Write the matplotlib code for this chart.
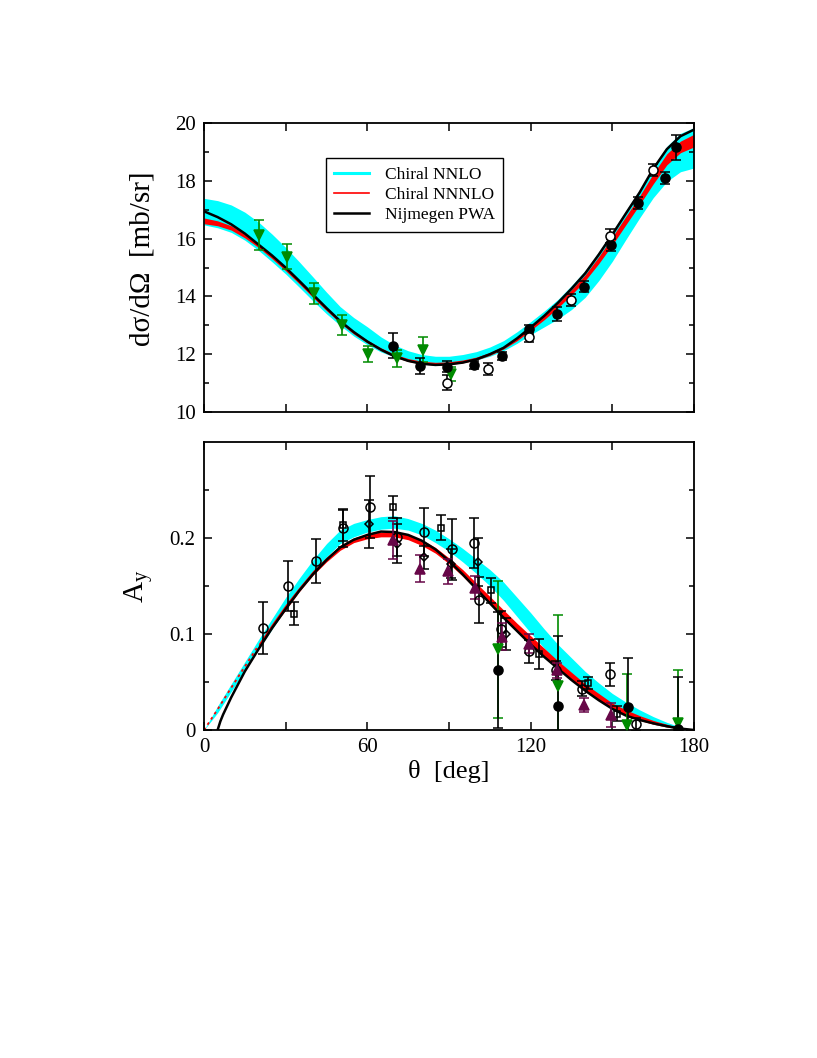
import numpy as np
import matplotlib
matplotlib.use("Agg")
import matplotlib.pyplot as plt
from matplotlib.ticker import MultipleLocator, FixedLocator

plt.rcParams['font.family'] = ['Liberation Serif', 'DejaVu Serif']
plt.rcParams['mathtext.fontset'] = 'custom'
plt.rcParams['mathtext.rm'] = 'Liberation Serif'
plt.rcParams['mathtext.it'] = 'Liberation Serif:italic'

# ---- cross section panel: theory curves ----
theta_xs = [0, 5, 10, 15, 20, 25, 30, 35, 40, 45, 50, 55, 60, 65, 70, 75, 80, 85, 90,
            95, 100, 105, 110, 115, 120, 125, 130, 135, 140, 145, 150, 155, 160, 165, 170, 175, 180]
pwa_xs = [16.95, 16.75, 16.5, 16.18, 15.8, 15.42, 15.0, 14.54, 14.07, 13.6, 13.15, 12.77, 12.44,
          12.16, 11.93, 11.77, 11.67, 11.63, 11.65, 11.71, 11.82, 12.0, 12.22, 12.55, 12.93, 13.33,
          13.78, 14.27, 14.8, 15.45, 16.15, 16.88, 17.6, 18.42, 19.1, 19.55, 19.78]
nnlo_xs_hi = [17.4, 17.32, 17.17, 16.92, 16.58, 16.16, 15.7, 15.2, 14.68, 14.15, 13.65, 13.27, 12.95,
              12.6, 12.32, 12.12, 11.99, 11.93, 11.93, 11.99, 12.09, 12.25, 12.47, 12.78, 13.13, 13.5,
              13.9, 14.38, 14.9, 15.55, 16.25, 16.98, 17.7, 18.5, 19.2, 19.65, 19.85]
nnlo_xs_lo = [16.48, 16.38, 16.22, 15.95, 15.6, 15.2, 14.78, 14.32, 13.85, 13.4, 13.0, 12.63, 12.33,
              12.08, 11.9, 11.77, 11.69, 11.67, 11.7, 11.74, 11.8, 11.93, 12.12, 12.38, 12.68, 12.95,
              13.22, 13.55, 13.97, 14.55, 15.22, 15.98, 16.72, 17.42, 17.98, 18.32, 18.45]
n3lo_xs_hi = [16.72, 16.62, 16.45, 16.15, 15.8, 15.41, 14.99, 14.54, 14.07, 13.61, 13.18, 12.8, 12.49,
              12.22, 12.0, 11.85, 11.76, 11.72, 11.74, 11.8, 11.9, 12.06, 12.28, 12.58, 12.95, 13.34,
              13.76, 14.24, 14.75, 15.38, 16.07, 16.78, 17.48, 18.25, 18.94, 19.38, 19.62]
n3lo_xs_lo = [16.52, 16.45, 16.3, 16.03, 15.7, 15.31, 14.89, 14.44, 13.97, 13.51, 13.08, 12.7, 12.39,
              12.12, 11.9, 11.75, 11.66, 11.62, 11.64, 11.7, 11.8, 11.96, 12.18, 12.47, 12.83, 13.2,
              13.61, 14.06, 14.55, 15.14, 15.79, 16.49, 17.18, 17.9, 18.56, 18.98, 19.18]

# ---- cross section panel: data ----
xs_tri_th = [20.3, 30.4, 40.5, 50.6, 60.4, 70.8, 80.6, 90.6]
xs_tri_v = [16.13, 15.38, 14.11, 13.01, 12.0, 11.86, 12.15, 11.32]
xs_tri_e = [0.52, 0.44, 0.37, 0.35, 0.28, 0.3, 0.43, 0.23]

xs_fc_th = [69.3, 79.4, 89.4, 99.3, 109.4, 119.4, 129.6, 139.4, 149.4, 159.3, 169.4, 173.4]
xs_fc_v = [12.29, 11.59, 11.57, 11.63, 11.94, 12.86, 13.39, 14.34, 15.78, 17.23, 18.1, 19.17]
xs_fc_e = [0.43, 0.29, 0.2, 0.15, 0.15, 0.15, 0.23, 0.2, 0.2, 0.2, 0.2, 0.43]

xs_oc_th = [89.4, 104.2, 119.5, 134.7, 149.2, 164.8]
xs_oc_v = [11.02, 11.48, 12.59, 13.88, 16.1, 18.38]
xs_oc_e = [0.25, 0.2, 0.18, 0.2, 0.25, 0.22]

# ---- analyzing power panel: theory curves ----
theta_ay = [0, 5, 10, 15, 20, 25, 30, 35, 40, 45, 50, 55, 60, 65, 70, 75, 80, 85, 90,
            95, 100, 105, 110, 115, 120, 125, 130, 135, 140, 145, 150, 155, 160, 165, 170, 175, 180]
nnlo_ay_hi = [0.0, 0.025, 0.048, 0.071, 0.094, 0.116, 0.138, 0.158, 0.177, 0.194, 0.208, 0.215, 0.219,
              0.222, 0.223, 0.220, 0.215, 0.208, 0.199, 0.189, 0.178, 0.167, 0.154, 0.138, 0.122, 0.105,
              0.089, 0.075, 0.061, 0.049, 0.038, 0.029, 0.021, 0.014, 0.008, 0.003, 0.0]
nnlo_ay_lo = [0.0, 0.018, 0.040, 0.062, 0.084, 0.105, 0.126, 0.146, 0.164, 0.180, 0.194, 0.201, 0.206,
              0.209, 0.210, 0.208, 0.203, 0.195, 0.186, 0.175, 0.163, 0.150, 0.135, 0.118, 0.101, 0.085,
              0.070, 0.057, 0.045, 0.034, 0.025, 0.017, 0.011, 0.006, 0.003, 0.001, 0.0]
n3lo_ay_hi = [0.0, 0.023, 0.046, 0.068, 0.090, 0.111, 0.131, 0.149, 0.166, 0.180, 0.192, 0.200, 0.204,
              0.206, 0.206, 0.203, 0.198, 0.190, 0.179, 0.167, 0.153, 0.139, 0.125, 0.111, 0.098, 0.085,
              0.072, 0.060, 0.048, 0.038, 0.028, 0.021, 0.015, 0.010, 0.006, 0.002, 0.0]
n3lo_ay_lo = [0.0, 0.020, 0.042, 0.064, 0.086, 0.106, 0.125, 0.144, 0.161, 0.175, 0.187, 0.195, 0.199,
              0.201, 0.201, 0.198, 0.192, 0.184, 0.173, 0.160, 0.146, 0.131, 0.116, 0.102, 0.089, 0.076,
              0.064, 0.052, 0.041, 0.031, 0.022, 0.015, 0.010, 0.006, 0.003, 0.001, 0.0]
theta_pwa_ay = [5, 6, 7, 8, 10, 15, 20, 25, 30, 35, 40, 45, 50, 55, 60, 65, 70, 75, 80, 85, 90,
                95, 100, 105, 110, 115, 120, 125, 130, 135, 140, 145, 150, 155, 160, 165, 170, 175, 180]
pwa_ay = [0.0, 0.009, 0.016, 0.022, 0.034, 0.061, 0.084, 0.106, 0.126, 0.145, 0.162, 0.177, 0.19,
          0.198, 0.203, 0.2065, 0.206, 0.203, 0.197, 0.188, 0.176, 0.162, 0.147, 0.132, 0.117, 0.103,
          0.089, 0.076, 0.064, 0.052, 0.041, 0.031, 0.022, 0.015, 0.0105, 0.007, 0.004, 0.0015, 0.0]

# ---- analyzing power panel: data ----
ay_oc_th = [21.6, 31.0, 41.0, 51.0, 61.0, 71.0, 80.9, 91.2, 99.2, 101.0, 109.2, 119.2, 129.2, 139.0, 149.2, 158.6]
ay_oc_v = [0.106, 0.150, 0.176, 0.210, 0.232, 0.201, 0.206, 0.188, 0.195, 0.135, 0.105, 0.082, 0.062, 0.043,
           0.058, 0.006]
ay_oc_e = [0.027, 0.026, 0.023, 0.02, 0.032, 0.02, 0.025, 0.032, 0.026, 0.024, 0.019, 0.012, 0.01, 0.008,
           0.012, 0.007]

ay_sq_th = [33.2, 51.0, 69.3, 87.1, 105.4, 123.1, 141.0, 151.6]
ay_sq_v = [0.121, 0.213, 0.232, 0.2105, 0.1455, 0.079, 0.049, 0.017]
ay_sq_e = [0.012, 0.016, 0.011, 0.013, 0.013, 0.016, 0.006, 0.008]

ay_di_th = [60.6, 71.0, 80.8, 90.6, 100.8, 111.0]
ay_di_v = [0.2145, 0.194, 0.180, 0.173, 0.175, 0.100]
ay_di_e = [0.025, 0.02, 0.012, 0.015, 0.025, 0.017]

ay_ut_th = [69.3, 79.3, 89.5, 99.6, 109.6, 119.4, 129.6, 139.4, 149.5]
ay_ut_v = [0.198, 0.168, 0.165, 0.148, 0.097, 0.090, 0.062, 0.026, 0.0156]
ay_ut_e = [0.02, 0.014, 0.013, 0.012, 0.014, 0.01, 0.008, 0.007, 0.012]

ay_dt_th = [107.9, 130.2, 155.5, 174.0]
ay_dt_v = [0.084, 0.046, 0.005, 0.0076]
ay_dt_e = [0.071, 0.074, 0.053, 0.055]

ay_fc_th = [107.9, 130.2, 155.9, 174.0]
ay_fc_v = [0.0625, 0.025, 0.0236, 0.0007]
ay_fc_e = [0.06, 0.073, 0.051, 0.054]

CYAN = '#00ffff'
RED = '#ff0000'
GREEN = '#008b00'
MAROON = '#670748'

fig = plt.figure(figsize=(8.17, 10.58), dpi=100)
ax1 = fig.add_axes([0.2497, 0.6106, 0.5998, 0.2729])
ax2 = fig.add_axes([0.2497, 0.3100, 0.5998, 0.2725])


def style_axes(ax):
    for s in ax.spines.values():
        s.set_linewidth(1.3)
    ax.tick_params(which='both', direction='in', top=True, right=True, width=1.1, labelsize=15, pad=6)
    ax.tick_params(which='major', length=5.5)
    ax.tick_params(which='minor', length=3.5)
    ax.set_xlim(0, 180)
    ax.xaxis.set_major_locator(FixedLocator([0, 60, 120, 180]))
    ax.xaxis.set_minor_locator(FixedLocator([30, 90, 150]))
    ax.tick_params(axis='x', which='minor', length=5.5)


def ebar(ax, th, v, e, marker, color, mfc, ms, z=5):
    ax.errorbar(th, v, yerr=e, fmt=marker, color=color, ecolor=color, mfc=mfc, mec=color,
                ms=ms, mew=1.1, elinewidth=1.2, capsize=3.5, capthick=1.2, zorder=z)


# ---------------- top panel ----------------
ax1.fill_between(theta_xs, nnlo_xs_lo, nnlo_xs_hi, color=CYAN, lw=0, zorder=1)
ax1.fill_between(theta_xs, n3lo_xs_lo, n3lo_xs_hi, color=RED, lw=0, zorder=2)
ax1.plot(theta_xs, pwa_xs, color='black', lw=1.8, zorder=3)

ebar(ax1, xs_tri_th, xs_tri_v, xs_tri_e, 'v', GREEN, GREEN, 7)
ebar(ax1, xs_fc_th, xs_fc_v, xs_fc_e, 'o', 'black', 'black', 6.5)
ebar(ax1, xs_oc_th, xs_oc_v, xs_oc_e, 'o', 'black', 'white', 6.5)

style_axes(ax1)
ax1.set_ylim(10, 20)
ax1.yaxis.set_major_locator(MultipleLocator(2))
ax1.yaxis.set_minor_locator(MultipleLocator(1))
ax1.set_xticklabels([])
ax1.set_ylabel('dσ/dΩ  [mb/sr]', fontsize=21)
ax1.yaxis.set_label_coords(-0.1, 0.53)

h1, = ax1.plot([], [], color=CYAN, lw=2.2)
h2, = ax1.plot([], [], color=RED, lw=1.2)
h3, = ax1.plot([], [], color='black', lw=1.8)
leg = ax1.legend([h1, h2, h3], ['Chiral NNLO', 'Chiral NNNLO', 'Nijmegen PWA'],
                 loc='upper left', bbox_to_anchor=(0.248, 0.879), borderaxespad=0, fontsize=12.5,
                 handlelength=2.0, handletextpad=0.9, borderpad=0.5, labelspacing=0.22,
                 fancybox=False, framealpha=1, edgecolor='black')
leg.get_frame().set_linewidth(1.0)

# ---------------- bottom panel ----------------
th_ay = np.array(theta_ay)
band_on = th_ay >= 20
ax2.fill_between(theta_ay, nnlo_ay_lo, nnlo_ay_hi, color=CYAN, lw=0, zorder=1)
ax2.fill_between(theta_ay, n3lo_ay_lo, n3lo_ay_hi, where=band_on, color=RED, lw=0, zorder=2)
n3lo_mid = (np.array(n3lo_ay_lo) + np.array(n3lo_ay_hi)) / 2
ax2.plot(th_ay[th_ay <= 20], n3lo_mid[th_ay <= 20], color=RED, lw=1.3, ls=(0, (1.5, 2)), zorder=2)
ax2.plot(theta_pwa_ay, pwa_ay, color='black', lw=1.8, zorder=3)

ebar(ax2, ay_dt_th, ay_dt_v, ay_dt_e, 'v', GREEN, GREEN, 7)
ebar(ax2, ay_fc_th, ay_fc_v, ay_fc_e, 'o', 'black', 'black', 6.5)
ebar(ax2, ay_oc_th, ay_oc_v, ay_oc_e, 'o', 'black', 'none', 6.5)
ebar(ax2, ay_sq_th, ay_sq_v, ay_sq_e, 's', 'black', 'none', 5)
ebar(ax2, ay_di_th, ay_di_v, ay_di_e, 'D', 'black', 'none', 4)
ebar(ax2, ay_ut_th, ay_ut_v, ay_ut_e, '^', MAROON, MAROON, 6.5)

style_axes(ax2)
ax2.set_ylim(0, 0.3)
ax2.yaxis.set_major_locator(FixedLocator([0, 0.1, 0.2]))
ax2.yaxis.set_minor_locator(FixedLocator([0.05, 0.15, 0.25]))
ax2.set_yticklabels(['0', '0.1', '0.2'])
ax2.set_xticklabels(['0', '60', '120', '180'])
ax2.set_ylabel(r'A$_\mathregular{y}$', fontsize=21)
ax2.yaxis.set_label_coords(-0.1, 0.5)
ax2.set_xlabel('θ  [deg]', fontsize=19, labelpad=2)

fig.savefig('out.png', dpi=100)
